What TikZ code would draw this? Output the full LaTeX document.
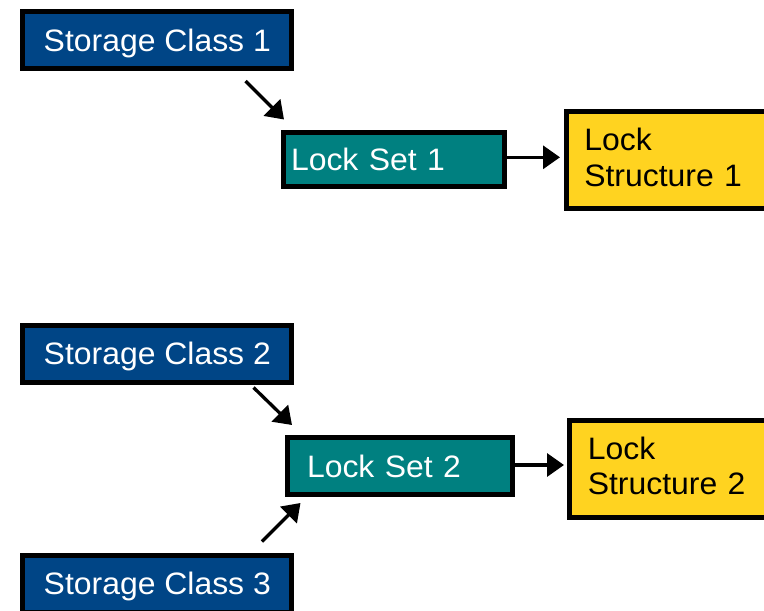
\documentclass[tikz,border=0pt]{standalone}
\usepackage{fontspec}
\setmainfont{Liberation Sans}[FakeStretch=1.03]
\usetikzlibrary{arrows.meta}
\definecolor{scblue}{HTML}{004586}
\definecolor{lsteal}{HTML}{008080}
\definecolor{lkyellow}{HTML}{FFD320}
\begin{document}
\begin{tikzpicture}[x=1pt,y=-1pt,
  boxbase/.style={draw=black, line width=5pt, inner ysep=0pt, font=\fontsize{31}{35.3}\selectfont},
  scbox/.style={boxbase, fill=scblue, text=white, minimum width=269.3pt, minimum height=57pt, text height=22pt, text depth=0pt},
  lsbox/.style={boxbase, fill=lsteal, text=white, align=left, text height=22pt, text depth=0pt},
  lkbox/.style={boxbase, fill=lkyellow, text=black, minimum height=97pt, inner xsep=18.3pt, text width=200pt},
  arr/.style={line width=3.3pt, -{Triangle[length=17pt,width=23pt]}}
]
\useasboundingbox (0,0) rectangle (764,611);
\fill[white] (0,0) rectangle (764,611);

\node[scbox] (sc1) at (157.3,40.2) {Storage Class 1};
\node[scbox] (sc2) at (157.3,353.7) {Storage Class 2};
\node[scbox] (sc3) at (157.3,583.5) {Storage Class 3};

\node[lsbox, inner xsep=7.5pt, text width=206pt, minimum height=53.5pt] (ls1) at (394,159.3) {Lock Set 1};
\node[lsbox, inner xsep=19.2pt, text width=186.6pt, minimum height=57.6pt] (ls2) at (400.3,466) {Lock Set 2};

\node[lkbox, anchor=west] (lk1) at (563.5,160) {\begin{tabular}{@{}l@{}}\rule{0pt}{27.3pt}Lock\\Structure 1\end{tabular}};
\node[lkbox, anchor=west] (lk2) at (567,468.5) {\begin{tabular}{@{}l@{}}\rule{0pt}{27.3pt}Lock\\Structure 2\end{tabular}};

\coordinate (a1s) at (245.5,81);
\coordinate (a1e) at (284,119.5);
\coordinate (a3s) at (253.5,387.5);
\coordinate (a3e) at (292,425);
\coordinate (a4s) at (262,541.5);
\coordinate (a4e) at (300.5,503);
\coordinate (a2s) at ([yshift=2pt]ls1.east);
\coordinate (a5s) at ([yshift=1pt]ls2.east);

\draw[arr] (a1s) -- (a1e);
\draw[arr] (a3s) -- (a3e);
\draw[arr] (a4s) -- (a4e);
\draw[arr, shorten >=3.5pt] (a2s) -- (lk1.west |- a2s);
\draw[arr, shorten >=3pt] (a5s) -- (lk2.west |- a5s);
\end{tikzpicture}
\end{document}
